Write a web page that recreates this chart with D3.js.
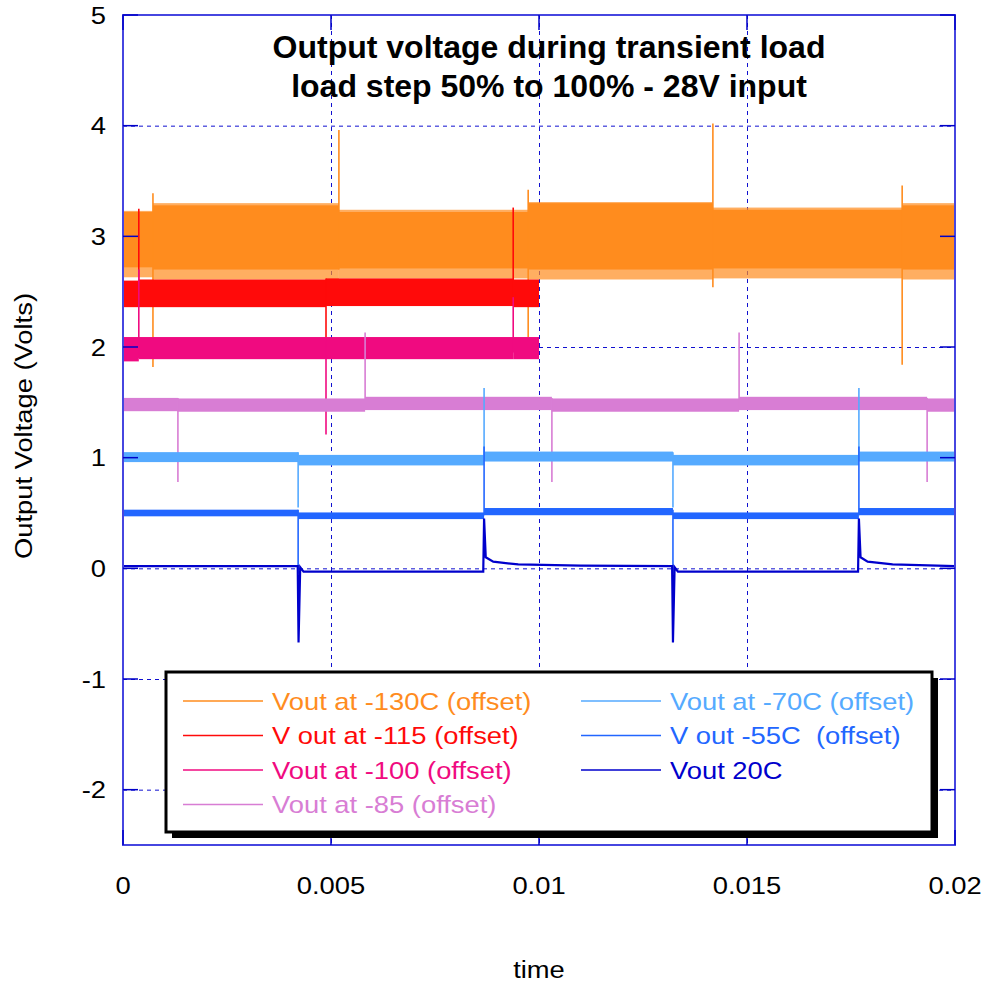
<!DOCTYPE html>
<html>
<head>
<meta charset="utf-8">
<script src="https://cdn.jsdelivr.net/npm/d3@7"></script>
<style>
  html, body { margin: 0; padding: 0; background: #fff; }
</style>
</head>
<body>
<svg width="987" height="987"></svg>
<script>
// tick values
const timeTicks = [0, 0.005, 0.01, 0.015, 0.02];
const voltTicks = [5, 4, 3, 2, 1, 0, -1, -2];

const seriesNames = ["Vout at -130C (offset)", "V out at -115 (offset)", "Vout at -100 (offset)",
  "Vout at -85 (offset)", "Vout at -70C (offset)", "V out -55C  (offset)", "Vout 20C"];

// noise bands: [t start, t end, low, high]   spikes: [t, low, high]
const bandsM130 = [[0, 0.00072, 2.72, 3.22], [0.00072, 0.00519, 2.70, 3.28], [0.00519, 0.00974, 2.71, 3.22],
  [0.00974, 0.01418, 2.70, 3.30], [0.01418, 0.01873, 2.71, 3.24], [0.01873, 0.02, 2.70, 3.28]];
const fringeM130 = [[0, 0.00072, 2.63, 3.23], [0.00072, 0.00519, 2.61, 3.30], [0.00519, 0.00974, 2.62, 3.24],
  [0.00974, 0.01418, 2.61, 3.31], [0.01418, 0.01873, 2.62, 3.26], [0.01873, 0.02, 2.61, 3.30]];
const spikesM130 = [[0.00072, 1.82, 3.39], [0.00519, 2.7, 3.96], [0.00974, 2.09, 3.42], [0.01418, 2.54, 4.02], [0.01873, 1.84, 3.46]];

const bandsM115 = [[0, 0.00038, 2.36, 2.60], [0.00038, 0.00488, 2.36, 2.61], [0.00488, 0.00938, 2.37, 2.62], [0.00938, 0.01, 2.36, 2.61]];
const spikesM115 = [[0.00038, 2.4, 3.25], [0.00488, 2.05, 2.62], [0.00938, 2.4, 3.26]];

const bandsM100 = [[0, 0.00038, 1.87, 2.09], [0.00038, 0.00488, 1.89, 2.09], [0.00488, 0.00938, 1.89, 2.09], [0.00938, 0.01, 1.89, 2.09]];
const spikesM100 = [[0.00038, 1.9, 2.7], [0.00488, 1.21, 2.05], [0.00938, 1.95, 2.45]];

const bandsM85 = [[0, 0.00132, 1.42, 1.54], [0.00132, 0.00582, 1.415, 1.535], [0.00582, 0.01031, 1.43, 1.55],
  [0.01031, 0.01481, 1.415, 1.535], [0.01481, 0.01933, 1.43, 1.55], [0.01933, 0.02, 1.415, 1.535]];
const spikesM85 = [[0.00132, 0.78, 1.54], [0.00582, 1.43, 2.13], [0.01031, 0.78, 1.54], [0.01481, 1.43, 2.13], [0.01933, 0.78, 1.54]];

const bandsM70 = [[0, 0.00421, 0.96, 1.05], [0.00421, 0.00868, 0.93, 1.025], [0.00868, 0.01322, 0.965, 1.055],
  [0.01322, 0.01769, 0.93, 1.025], [0.01769, 0.02, 0.965, 1.055]];
const spikesM70 = [[0.00421, 0.55, 1.05], [0.00868, 0.97, 1.63], [0.01322, 0.55, 1.05], [0.01769, 0.97, 1.63]];

const bandsM55 = [[0, 0.00421, 0.47, 0.53], [0.00421, 0.00868, 0.445, 0.505], [0.00868, 0.01322, 0.48, 0.545],
  [0.01322, 0.01769, 0.445, 0.505], [0.01769, 0.02, 0.48, 0.545]];
const spikesM55 = [[0.00421, -0.05, 0.53], [0.00868, 0.48, 1.1], [0.01322, -0.05, 0.53], [0.01769, 0.48, 1.1]];

// 20C trace is clean enough to read as a line: [t, volts]
const trace20 = [[0, 0.02], [0.0042, 0.02], [0.00422, -0.67], [0.00426, 0.01], [0.00434, -0.03], [0.00866, -0.03],
  [0.00868, 0.45], [0.00872, 0.1], [0.0089, 0.06], [0.0095, 0.035], [0.011, 0.025], [0.0132, 0.02],
  [0.01322, -0.67], [0.01326, 0.01], [0.01334, -0.03], [0.01767, -0.03], [0.01769, 0.45], [0.01773, 0.1],
  [0.0179, 0.06], [0.0185, 0.035], [0.02, 0.02]];

const colors = ["#ff8c1e", "#ff0a0a", "#f00a80", "#d87dd4", "#55aaff", "#2266ff", "#0000cc"];
const bandSets = [bandsM130, bandsM115, bandsM100, bandsM85, bandsM70, bandsM55];
const spikeSets = [spikesM130, spikesM115, spikesM100, spikesM85, spikesM70, spikesM55];

const svg = d3.select("svg");
const x = d3.scaleLinear().domain([0, 0.02]).range([123, 955]);
const y = d3.scaleLinear().domain([-2.5, 5]).range([845, 15]);

const FONT = "Liberation Sans, Arial, sans-serif";
const SX = 1.14; // the original text is drawn a bit wide

function label(parent, px, py, str, anchor, size, color) {
  const g = parent.append("g").attr("transform", "translate(" + px + "," + py + ") scale(" + SX + ",1)");
  g.append("text")
    .attr("text-anchor", anchor)
    .attr("font-family", FONT)
    .attr("font-size", size)
    .attr("fill", color)
    .style("white-space", "pre")
    .text(str);
  return g;
}

// grid
const grid = svg.append("g").attr("stroke", "#1010d0").attr("stroke-width", 1).attr("stroke-dasharray", "4,4");
grid.selectAll("line.gy").data(voltTicks.filter(v => v < 5)).enter().append("line")
  .attr("x1", x(0)).attr("x2", x(0.02))
  .attr("y1", d => y(d) + 0.5).attr("y2", d => y(d) + 0.5);
grid.selectAll("line.gx").data(timeTicks.filter(t => t > 0 && t < 0.02)).enter().append("line")
  .attr("x1", d => x(d) + 0.5).attr("x2", d => x(d) + 0.5)
  .attr("y1", y(5)).attr("y2", y(-2.5));

// traces
const plot = svg.append("g");
fringeM130.forEach(b => {
  plot.append("rect")
    .attr("x", x(b[0])).attr("width", x(b[1]) - x(b[0]))
    .attr("y", y(b[3])).attr("height", y(b[2]) - y(b[3]))
    .attr("fill", colors[0]).attr("opacity", 0.7);
});
bandSets.forEach((bands, i) => {
  const g = plot.append("g");
  g.selectAll("rect").data(bands).enter().append("rect")
    .attr("x", d => x(d[0])).attr("width", d => x(d[1]) - x(d[0]))
    .attr("y", d => y(d[3])).attr("height", d => y(d[2]) - y(d[3]))
    .attr("fill", colors[i]);
  g.selectAll("line").data(spikeSets[i]).enter().append("line")
    .attr("x1", d => x(d[0])).attr("x2", d => x(d[0]))
    .attr("y1", d => y(d[1])).attr("y2", d => y(d[2]))
    .attr("stroke", colors[i]).attr("stroke-width", 1.6);
});
const line = d3.line().x(d => x(d[0])).y(d => y(d[1]));
plot.append("path").datum(trace20)
  .attr("d", line).attr("fill", "none")
  .attr("stroke", colors[6]).attr("stroke-width", 2.2);

// frame and inner ticks
svg.append("rect")
  .attr("x", x(0)).attr("y", y(5))
  .attr("width", x(0.02) - x(0)).attr("height", y(-2.5) - y(5))
  .attr("fill", "none").attr("stroke", "#4646e0").attr("stroke-width", 2);
const ticks = svg.append("g").attr("stroke", "#0000c8").attr("stroke-width", 1.5);
voltTicks.forEach(v => {
  ticks.append("line").attr("x1", x(0)).attr("x2", x(0) + 15).attr("y1", y(v)).attr("y2", y(v));
  ticks.append("line").attr("x1", x(0.02) - 15).attr("x2", x(0.02)).attr("y1", y(v)).attr("y2", y(v));
});
timeTicks.forEach(t => {
  ticks.append("line").attr("x1", x(t)).attr("x2", x(t)).attr("y1", y(-2.5)).attr("y2", y(-2.5) - 15);
  ticks.append("line").attr("x1", x(t)).attr("x2", x(t)).attr("y1", y(5)).attr("y2", y(5) + 15);
});

// tick labels
voltTicks.forEach(v => label(svg, 106, y(v) + 8.5, String(v), "end", 24, "#000"));
timeTicks.forEach(t => label(svg, x(t), 894, String(t), "middle", 24, "#000"));

// axis titles
label(svg, 539, 978, "time", "middle", 24, "#000");
svg.append("g").attr("transform", "translate(32,426) rotate(-90) scale(" + SX + ",1)")
  .append("text")
  .attr("text-anchor", "middle")
  .attr("font-family", FONT)
  .attr("font-size", 24)
  .text("Output Voltage (Volts)");

// title
const title = svg.append("text")
  .attr("text-anchor", "middle")
  .attr("font-family", FONT)
  .attr("font-weight", "bold")
  .attr("font-size", 32);
title.append("tspan").attr("x", 549).attr("y", 58).text("Output voltage during transient load");
title.append("tspan").attr("x", 549).attr("y", 97).text("load step 50% to 100% - 28V input");

// legend
const leg = svg.append("g");
leg.append("rect").attr("x", 172).attr("y", 678).attr("width", 766).attr("height", 160).attr("fill", "#000");
leg.append("rect").attr("x", 166).attr("y", 672).attr("width", 766).attr("height", 160)
  .attr("fill", "#fff").attr("stroke", "#000").attr("stroke-width", 3);
seriesNames.forEach((name, i) => {
  const col = i < 4 ? 0 : 1;
  const row = i < 4 ? i : i - 4;
  const lx = col === 0 ? 183 : 581;
  const ly = 701 + row * 34.5;
  leg.append("line").attr("x1", lx).attr("x2", lx + 80).attr("y1", ly).attr("y2", ly)
    .attr("stroke", colors[i]).attr("stroke-width", 1.5);
  label(leg, lx + 89, ly + 8.5, name, "start", 24, colors[i]);
});
</script>
</body>
</html>
